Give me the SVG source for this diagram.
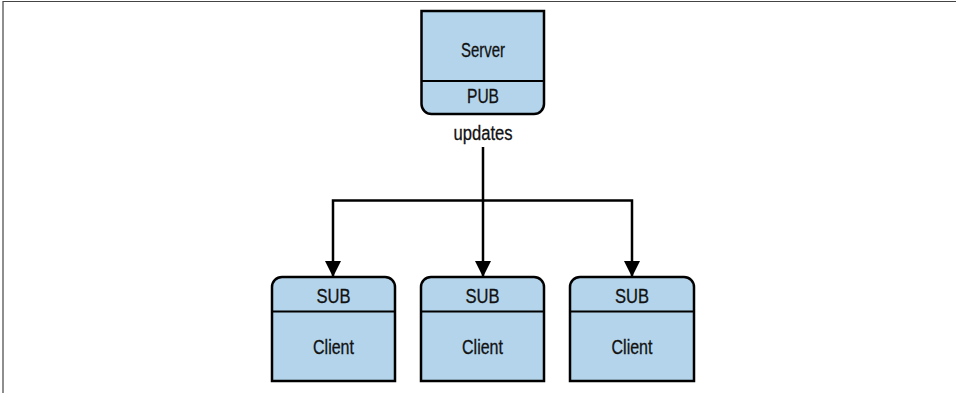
<svg xmlns="http://www.w3.org/2000/svg" width="956" height="393" viewBox="0 0 956 393">
<defs>
<style>
.box{fill:#b3d4ea;stroke:#000;stroke-width:2.5}
.div{stroke:#000;stroke-width:2.2;fill:none}
.t{font-family:"Liberation Sans",Arial,sans-serif;font-size:20px;fill:#111;text-anchor:middle;stroke:#111;stroke-width:0.3}
.c{stroke:#000;stroke-width:2.5;fill:none}
</style>
<marker id="ah" markerWidth="16" markerHeight="16" viewBox="0 0 16 16" refX="15" refY="8" orient="auto" markerUnits="userSpaceOnUse">
<path d="M0,0 L16,8 L0,16 Z" fill="#000"/>
</marker>
</defs>
<rect width="956" height="393" fill="#fff"/>
<path d="M3,393 V1.5 H956" fill="none" stroke="#444" stroke-width="1.2"/>
<g id="server">
<path class="box" d="M421.5,11 H544 V104 A10,10 0 0 1 534,114 H431.5 A10,10 0 0 1 421.5,104 Z"/>
<line class="div" x1="421.5" y1="81" x2="544" y2="81"/>
<text class="t" x="483" y="57" textLength="44" lengthAdjust="spacingAndGlyphs">Server</text>
<text class="t" x="483" y="103" textLength="32" lengthAdjust="spacingAndGlyphs">PUB</text>
</g>
<g id="updates-label">
<text class="t" x="483" y="140" textLength="59" lengthAdjust="spacingAndGlyphs">updates</text>
</g>
<g id="connectors">
<path class="c" d="M483,147 V200.5 H333 V276" marker-end="url(#ah)"/>
<path class="c" d="M483,200.5 V276" marker-end="url(#ah)"/>
<path class="c" d="M483,200.5 H632 V276" marker-end="url(#ah)"/>
</g>
<g id="client1">
<path class="box" d="M272,381 V287 A10,10 0 0 1 282,277 H385 A10,10 0 0 1 395,287 V381 Z"/>
<line class="div" x1="272" y1="311.5" x2="395" y2="311.5"/>
<text class="t" x="333.5" y="303" textLength="34" lengthAdjust="spacingAndGlyphs">SUB</text>
<text class="t" x="333.5" y="354" textLength="41" lengthAdjust="spacingAndGlyphs">Client</text>
</g>
<g id="client2">
<path class="box" d="M421,381 V287 A10,10 0 0 1 431,277 H534 A10,10 0 0 1 544,287 V381 Z"/>
<line class="div" x1="421" y1="311.5" x2="544" y2="311.5"/>
<text class="t" x="482.5" y="303" textLength="34" lengthAdjust="spacingAndGlyphs">SUB</text>
<text class="t" x="482.5" y="354" textLength="41" lengthAdjust="spacingAndGlyphs">Client</text>
</g>
<g id="client3">
<path class="box" d="M570,381 V287 A10,10 0 0 1 580,277 H684 A10,10 0 0 1 694,287 V381 Z"/>
<line class="div" x1="570" y1="311.5" x2="694" y2="311.5"/>
<text class="t" x="632" y="303" textLength="34" lengthAdjust="spacingAndGlyphs">SUB</text>
<text class="t" x="632" y="354" textLength="41" lengthAdjust="spacingAndGlyphs">Client</text>
</g>
</svg>
